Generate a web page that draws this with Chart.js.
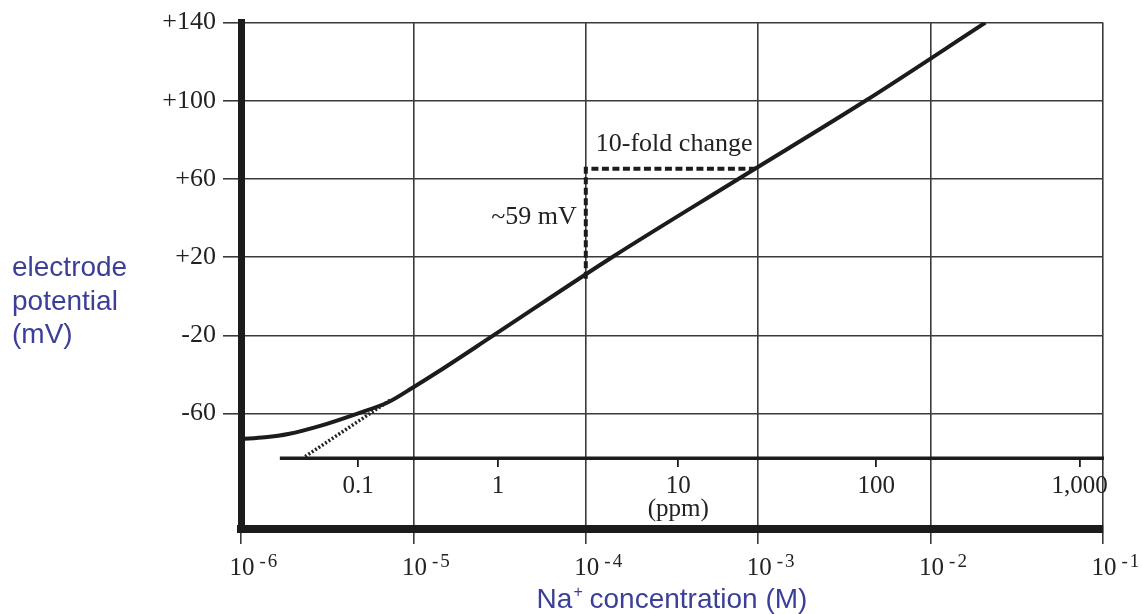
<!DOCTYPE html>
<html lang="en">
<head>
<meta charset="UTF-8">
<title>Na+ electrode response</title>
<script src="https://cdn.jsdelivr.net/npm/chart.js@4.4.1/dist/chart.umd.min.js"></script>
<style>
    html, body { margin: 0; padding: 0; background: #fff; }
</style>
</head>
<body>
<canvas id="chart" width="1142" height="614"></canvas>
<script>
// electrode response
const concM = [1e-6, 1.38e-6, 1.88e-6, 2.91e-6, 4.65e-6, 7.13e-6, 1.0e-5, 1.39e-5, 2.91e-5, 1.42e-4, 7.67e-4, 4.19e-3, 2.08e-2];
const potentialMv = [-73, -72.1, -70.4, -66.1, -60.2, -54.2, -46.5, -38.6, -20, 20, 60, 100, 140];

// dotted extension of the straight part
const extrapConc = [7.33e-6, 2.35e-6];
const extrapMv = [-53.1, -82];

// 10-fold change marker
const foldConc = [1e-4, 1e-4, 1e-3];
const foldMv = [9, 65.2, 65.2];

// axes
const decadeTicks = [1e-6, 1e-5, 1e-4, 1e-3, 1e-2, 1e-1];
const decadeExponents = ['-6', '-5', '-4', '-3', '-2', '-1'];
const mvTicks = [-60, -20, 20, 60, 100, 140];
const mvTickLabels = ['-60', '-20', '+20', '+60', '+100', '+140'];
const ppmTickConc = [4.78e-6, 3.1e-5, 3.44e-4, 4.84e-3, 7.31e-2];
const ppmTickLabels = ['0.1', '1', ['10', '(ppm)'], '100', '1,000'];
const ppmAxisMv = -82.8;
const ppmAxisFrom = 1.68e-6;

const serif = '"Liberation Serif", "Times New Roman", serif';
const sans = '"Liberation Sans", Arial, sans-serif';
const ink = '#1c1c1c';
const gridInk = '#3a3a3a';
const blue = '#3b3f98';

const pts = (xs, ys) => xs.map((v, i) => ({ x: v, y: ys[i] }));

const extras = {
    id: 'extras',
    beforeDatasetsDraw(chart) {
        const { ctx, chartArea } = chart;
        const x = chart.scales.x, y = chart.scales.y;
        const py = y.getPixelForValue(ppmAxisMv);
        ctx.save();
        ctx.strokeStyle = ink;
        ctx.lineWidth = 3.5;
        ctx.beginPath();
        ctx.moveTo(x.getPixelForValue(ppmAxisFrom), py);
        ctx.lineTo(chartArea.right + 1, py);
        ctx.stroke();
        ctx.restore();
    },
    afterDraw(chart) {
        const { ctx } = chart;
        const x = chart.scales.x, y = chart.scales.y;
        ctx.save();
        ctx.fillStyle = '#222';
        ctx.textBaseline = 'alphabetic';

        // 10^n labels under the bottom axis
        decadeTicks.forEach((v, i) => {
            const px = x.getPixelForValue(v);
            ctx.font = '25px ' + serif;
            ctx.textAlign = 'center';
            ctx.fillText('10', px + 1, 575);
            const w = ctx.measureText('10').width;
            ctx.font = '19px ' + serif;
            ctx.textAlign = 'left';
            const ex = px + 1 + w / 2 + 5;
            ctx.fillText('-', ex, 567);
            ctx.fillText(decadeExponents[i].slice(1), ex + ctx.measureText('-').width + 2, 567);
        });

        // annotations
        const fx = x.getPixelForValue(foldConc[0]);
        const fyTop = y.getPixelForValue(foldMv[1]);
        const fyBot = y.getPixelForValue(foldMv[0]);
        ctx.font = '26px ' + serif;
        ctx.textAlign = 'left';
        ctx.fillText('10-fold change', fx + 10, fyTop - 18);
        ctx.textAlign = 'right';
        ctx.fillText('~59 mV', fx - 9, (fyTop + fyBot) / 2);

        // axis titles
        ctx.fillStyle = blue;
        ctx.font = '28px ' + sans;
        ctx.textAlign = 'left';
        ['electrode', 'potential', '(mV)'].forEach((t, i) => ctx.fillText(t, 12, 276 + i * 33.5));

        const cx = (chart.chartArea.left + chart.chartArea.right) / 2;
        const a = 'Na', b = ' concentration (M)';
        ctx.font = '28px ' + sans;
        const wa = ctx.measureText(a).width, wb = ctx.measureText(b).width;
        ctx.font = '16px ' + sans;
        const wp = ctx.measureText('+').width;
        const sx = cx - (wa + wp + wb) / 2;
        ctx.font = '28px ' + sans;
        ctx.fillText(a, sx, 608);
        ctx.font = '16px ' + sans;
        ctx.fillText('+', sx + wa + 1, 597);
        ctx.font = '28px ' + sans;
        ctx.fillText(b, sx + wa + wp, 608);
        ctx.restore();
    }
};

new Chart(document.getElementById('chart').getContext('2d'), {
    type: 'line',
    data: {
        datasets: [
            {
                label: 'extrapolation',
                data: pts(extrapConc, extrapMv),
                borderColor: '#222',
                borderWidth: 3.5,
                borderDash: [2, 2],
                pointRadius: 0,
                xAxisID: 'x', yAxisID: 'y'
            },
            {
                label: 'electrode potential',
                data: pts(concM, potentialMv),
                borderColor: ink,
                borderWidth: 4,
                pointRadius: 0,
                cubicInterpolationMode: 'monotone',
                xAxisID: 'x', yAxisID: 'y'
            },
            {
                label: '10-fold change',
                data: pts(foldConc, foldMv),
                borderColor: ink,
                borderWidth: 4,
                borderDash: [7, 3.5],
                borderCapStyle: 'butt',
                pointRadius: 0,
                xAxisID: 'x', yAxisID: 'y'
            }
        ]
    },
    options: {
        responsive: false,
        animation: false,
        devicePixelRatio: 1,
        layout: { padding: { top: 21, right: 39, left: 0, bottom: 0 } },
        plugins: { legend: { display: false }, tooltip: { enabled: false } },
        scales: {
            x: {
                type: 'logarithmic',
                position: 'bottom',
                min: 1e-6,
                max: 1e-1,
                afterBuildTicks: s => { s.ticks = decadeTicks.map(v => ({ value: v })); },
                afterFit: s => { s.height = 85; },
                ticks: { display: false },
                grid: { color: gridInk, lineWidth: 1.6, tickLength: 15 },
                border: { display: true, color: ink, width: 8 }
            },
            ppm: {
                axis: 'x',
                type: 'logarithmic',
                min: 1e-6,
                max: 1e-1,
                position: { y: ppmAxisMv },
                afterBuildTicks: s => { s.ticks = ppmTickConc.map(v => ({ value: v })); },
                border: { display: false },
                grid: { drawOnChartArea: false, drawTicks: true, tickLength: 9, color: ink, lineWidth: 1.8 },
                ticks: {
                    autoSkip: false, maxRotation: 0, padding: 7, color: '#222',
                    font: { family: serif, size: 25, lineHeight: 0.95 },
                    callback: (v, i) => ppmTickLabels[i]
                }
            },
            y: {
                type: 'linear',
                position: 'left',
                min: -119,
                max: 140,
                afterBuildTicks: s => { s.ticks = mvTicks.map(v => ({ value: v })); },
                afterFit: s => { s.width = 241; },
                ticks: {
                    padding: 7, color: '#222',
                    font: { family: serif, size: 26 },
                    callback: (v, i) => mvTickLabels[i]
                },
                grid: { color: gridInk, lineWidth: 1.6, tickLength: 18 },
                border: { display: true, color: ink, width: 7 }
            }
        }
    },
    plugins: [extras]
});
</script>
</body>
</html>
